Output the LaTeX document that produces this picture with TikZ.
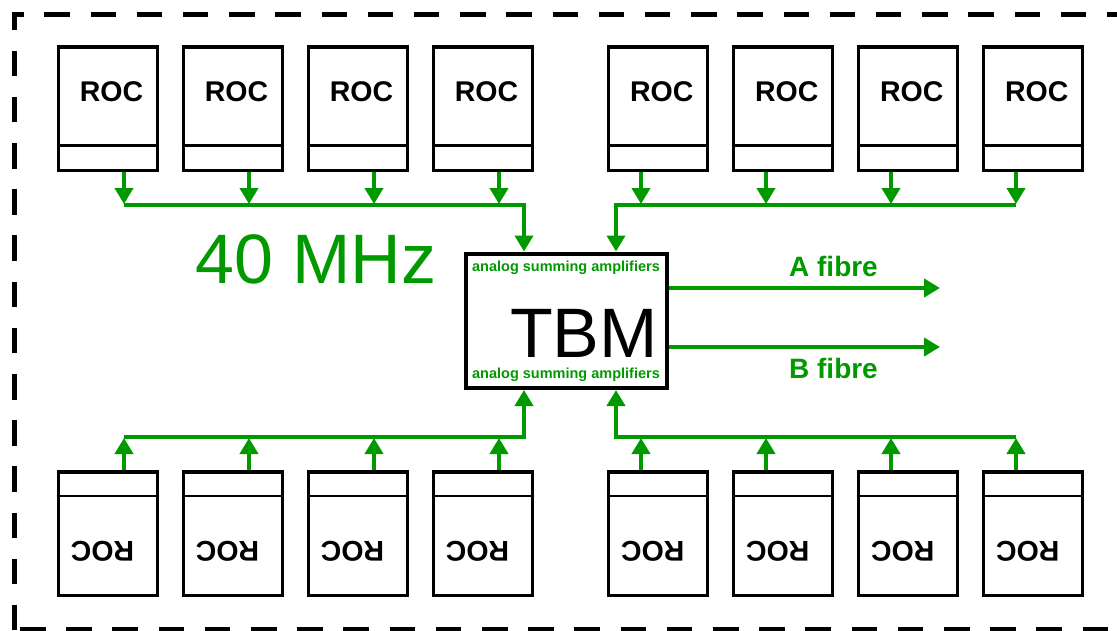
\documentclass[tikz,border=0pt]{standalone}
\usepackage{fontspec}
\setmainfont{Liberation Sans}
\usetikzlibrary{arrows.meta, positioning}
\definecolor{busgreen}{RGB}{0,153,0}

\tikzset{
  rocbox/.style={draw, line width=3.5pt, minimum width=99pt, minimum height=123.5pt, inner sep=0pt},
  roctext/.style={font=\fontsize{28.5}{30}\selectfont\bfseries, inner sep=0pt, anchor=base},
  amptext/.style={font=\fontsize{14.5}{16}\selectfont\bfseries, text=busgreen, inner sep=0pt, anchor=base},
  fibretext/.style={font=\fontsize{28}{30}\selectfont\bfseries, text=busgreen, inner sep=0pt, anchor=base},
  sig/.style={busgreen, line width=4pt, -{Triangle[width=18pt,length=16pt]}},
  frame/.style={line width=5pt, dash pattern=on 25.5pt off 20.7pt},
}

\begin{document}
\begin{tikzpicture}[x=1pt, y=-1pt]
        \useasboundingbox (0,0) rectangle (1117,630);
        \clip (0,0) rectangle (1117,630);

        % 虚线外框
        \draw[frame, dash phase=1pt] (14,629.5) -- (14,14) -- (1140,14);
        \draw[frame, dash phase=40.2pt] (14,629.5) -- (1140,629.5);

        % TBM
        \node[draw, line width=4pt, minimum width=201pt, minimum height=134.5pt, inner sep=0pt] (tbm) at (566,320.75) {};
        \node[font=\fontsize{70}{72}\selectfont, anchor=base east, inner sep=0pt, text depth=0pt] (tbmname) at (658,357) {TBM};
        \node[amptext] (ampT) at (566,271.3) {analog summing amplifiers};
        \node[amptext] (ampB) at (566,378.3) {analog summing amplifiers};
        \coordinate (inTL) at ([xshift=-42pt]tbm.north);
        \coordinate (inTR) at ([xshift=50pt]tbm.north);
        \coordinate (inBL) at ([xshift=-42pt]tbm.south);
        \coordinate (inBR) at ([xshift=50pt]tbm.south);

        % 上排 ROC
        \foreach \i/\x/\a in {1/107.8/124, 2/232.8/249, 3/357.8/374, 4/482.8/499,
                              5/658/641, 6/783/766, 7/908/891, 8/1033/1016} {
            \node[rocbox] (t\i) at (\x,108.5) {};
            \draw[line width=2.5pt] (t\i.west |- 0,145.7) -- (t\i.east |- 0,145.7);
            \node[roctext] (tl\i) at (\x+3.7,101) {ROC};
            \coordinate (ta\i) at (\a,204);
            \draw[sig] (t\i.south -| ta\i) -- (ta\i);
        }
        \draw[sig] (ta1 |- 0,205) -| (inTL);
        \draw[sig] (ta8 |- 0,205) -| (inTR);

        % 下排 ROC（倒置）
        \foreach \i/\x/\a in {1/107.8/124, 2/232.8/249, 3/357.8/374, 4/482.8/499,
                              5/658/641, 6/783/766, 7/908/891, 8/1033/1016} {
            \node[rocbox] (b\i) at (\x,533.7) {};
            \draw[line width=2.5pt] (b\i.west |- 0,496) -- (b\i.east |- 0,496);
            \node[roctext, rotate=180] (bl\i) at (\x-5.3,541) {ROC};
            \coordinate (ba\i) at (\a,438);
            \draw[sig] (b\i.north -| ba\i) -- (ba\i);
        }
        \draw[sig] (ba1 |- 0,437) -| (inBL);
        \draw[sig] (ba8 |- 0,437) -| (inBR);

        % 输出光纤
        \coordinate (outA) at (940,288);
        \coordinate (outB) at (940,347);
        \draw[sig] (tbm.east |- outA) -- (outA);
        \draw[sig] (tbm.east |- outB) -- (outB);
        \node[fibretext] (fibA) at (833.5,276.7) {A fibre};
        \node[fibretext] (fibB) at (833.5,378.3) {B fibre};

        % 时钟
        \node[font=\fontsize{70}{72}\selectfont, text=busgreen, anchor=base west, inner sep=0pt] (clk) at (195,283.3) {40 MHz};
    \end{tikzpicture}
\end{document}
